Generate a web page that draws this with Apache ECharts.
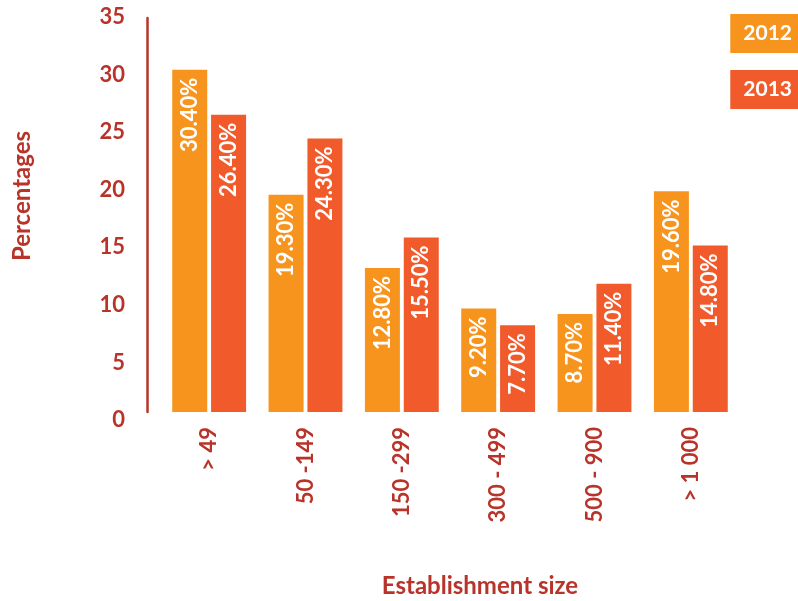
<!DOCTYPE html>
<html>
<head>
<meta charset="utf-8">
<script src="https://cdn.jsdelivr.net/npm/echarts@6/dist/echarts.min.js"></script>
<style>
html,body{margin:0;padding:0;background:#fff;}
#main{width:798px;height:601px;}
</style>
</head>
<body>
<div id="main"></div>
<script>
const categories = ['> 49', '50 -149', '150 -299', '300 - 499', '500 - 900', '> 1 000'];
const seriesNames = ['2012', '2013'];
const values2012 = [30.4, 19.3, 12.8, 9.2, 8.7, 19.6];
const values2013 = [26.4, 24.3, 15.5, 7.7, 11.4, 14.8];
const yTicks = [0, 5, 10, 15, 20, 25, 30, 35];

const FONT = 'Lato';
const DARK = '#B8342A';
const C2012 = '#F7941E';
const C2013 = '#F15A2B';

const chart = echarts.init(document.getElementById('main'));

function labelCfg() {
  return {
    show: true,
    position: 'insideTop',
    rotate: 90,
    align: 'right',
    verticalAlign: 'middle',
    distance: 8,
    color: '#fff',
    fontFamily: FONT,
    fontWeight: 'bold',
    fontSize: 22,
    formatter: p => p.value.toFixed(2) + '%'
  };
}

chart.setOption({
  animation: false,
  backgroundColor: '#fff',
  textStyle: { fontFamily: FONT },
  grid: [
    { left: 161, right: 59, top: 18, bottom: 189, containLabel: false, outerBoundsMode: 'none' },
    { left: 161, right: 59, top: 17, bottom: 181, containLabel: false, outerBoundsMode: 'none' }
  ],
  legend: [
    {
      data: [seriesNames[0]], right: 0, top: 14, icon: 'none', itemWidth: 0, itemGap: 0,
      backgroundColor: C2012, padding: [9, 6, 9, 8],
      textStyle: { color: '#fff', fontWeight: 'bold', fontSize: 21, fontFamily: FONT, padding: 0 }
    },
    {
      data: [seriesNames[1]], right: 0, top: 70, icon: 'none', itemWidth: 0, itemGap: 0,
      backgroundColor: C2013, padding: [9, 6, 9, 8],
      textStyle: { color: '#fff', fontWeight: 'bold', fontSize: 21, fontFamily: FONT, padding: 0 }
    }
  ],
  xAxis: [
    {
      type: 'category',
      gridIndex: 0,
      data: categories,
      axisLine: { show: false },
      axisTick: { show: false },
      axisLabel: {
        rotate: 90, margin: 15, color: DARK, fontWeight: 'bold', fontSize: 22, fontFamily: FONT
      },
      name: 'Establishment size',
      nameLocation: 'middle',
      nameGap: 162,
      nameTextStyle: { color: DARK, fontWeight: 'bold', fontSize: 24, fontFamily: FONT, padding: [0, 0, 0, 60] }
    },
    {
      type: 'category', gridIndex: 1, data: categories, show: false
    }
  ],
  yAxis: [
    {
      type: 'value',
      gridIndex: 0,
      min: 0, max: 35, interval: 5,
      offset: 14,
      axisLine: { show: true, lineStyle: { color: DARK, width: 2.5 } },
      axisTick: { show: false },
      splitLine: { show: false },
      axisLabel: { show: false },
      name: 'Percentages',
      nameLocation: 'middle',
      nameGap: 113,
      nameRotate: 90,
      nameTextStyle: { color: DARK, fontWeight: 'bold', fontSize: 24, fontFamily: FONT, padding: [0, 0, 0, 38] }
    },
    {
      type: 'value',
      gridIndex: 1,
      min: 0, max: 35, interval: 5,
      offset: 14,
      axisLine: { show: false },
      axisTick: { show: false },
      splitLine: { show: false },
      axisLabel: {
        margin: 22, color: DARK, fontWeight: 'bold', fontSize: 22, fontFamily: FONT,
        formatter: v => yTicks.includes(v) ? String(v) : ''
      }
    }
  ],
  series: [
    {
      name: seriesNames[0], type: 'bar', data: values2012,
      xAxisIndex: 0, yAxisIndex: 0,
      barWidth: 35, barGap: '11%',
      itemStyle: { color: C2012 },
      label: labelCfg()
    },
    {
      name: seriesNames[1], type: 'bar', data: values2013,
      xAxisIndex: 0, yAxisIndex: 0,
      barWidth: 35,
      itemStyle: { color: C2013 },
      label: labelCfg()
    }
  ]
});
</script>
</body>
</html>
